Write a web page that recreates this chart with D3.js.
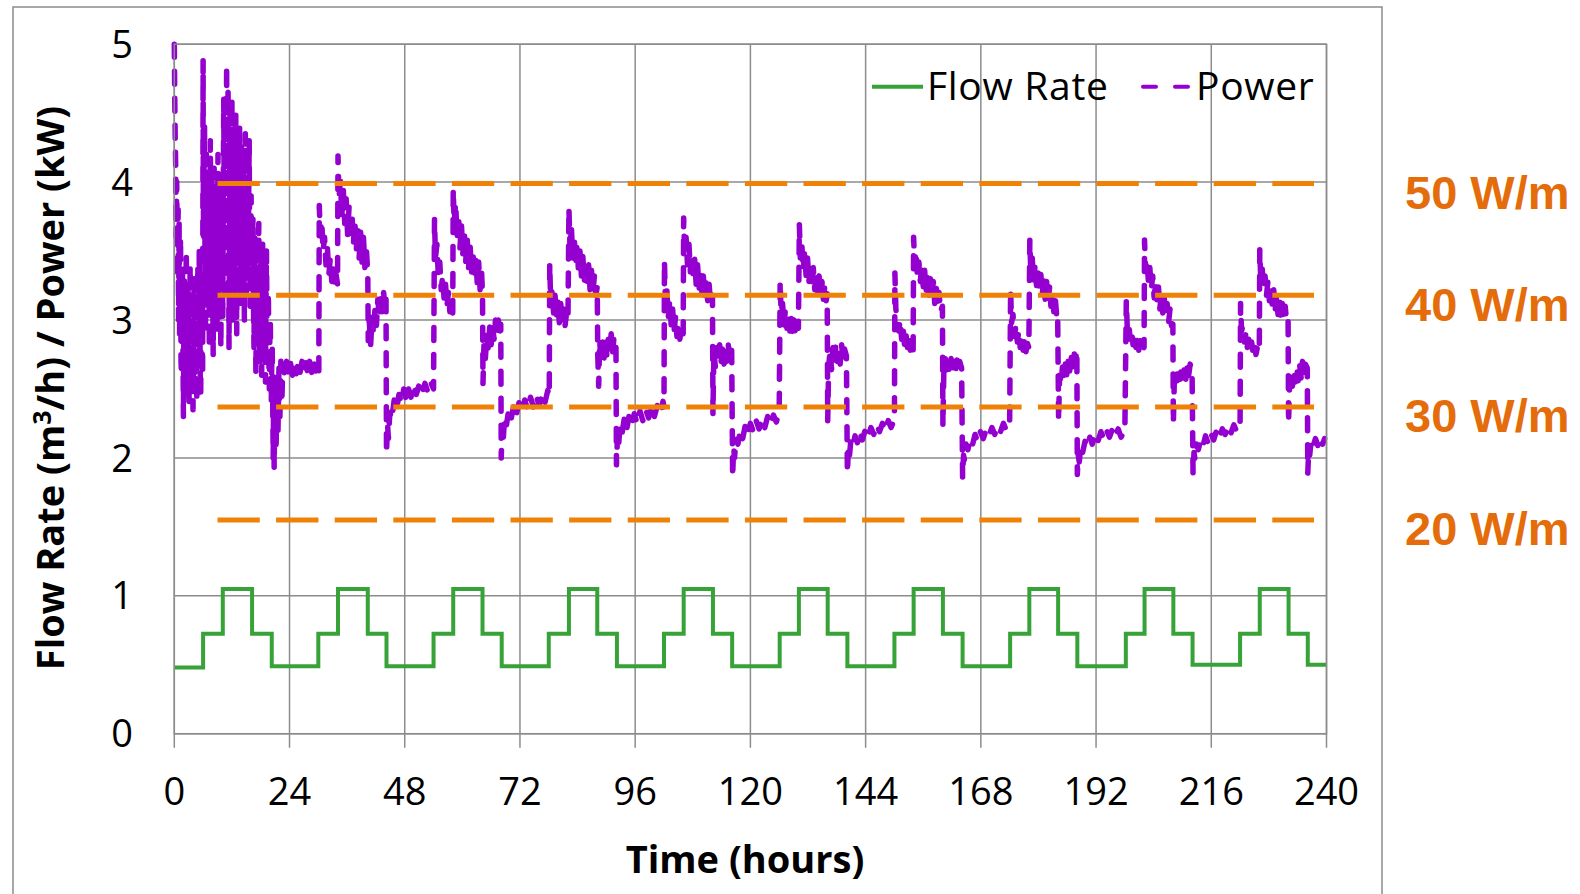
<!DOCTYPE html>
<html>
<head>
<meta charset="utf-8">
<script src="https://cdn.jsdelivr.net/npm/d3@7"></script>
<style>
  body { margin: 0; background: #fff; }
  svg text { font-family: "Open Sans", "Noto Sans", sans-serif; }
</style>
</head>
<body>
<div id="chart"></div>
<script>

// ---- data ----

var xTicks = [0, 24, 48, 72, 96, 120, 144, 168, 192, 216, 240];
var yTicks = [0, 1, 2, 3, 4, 5];

// flow rate (m3/h), step changes [hour, value]
var flowSteps = [
  [0, 0.48], [6, 0.725], [10.1, 1.05], [16.2, 0.725], [20.3, 0.49],
  [30, 0.725], [34.1, 1.05], [40.3, 0.725], [44.2, 0.49],
  [54, 0.725], [58.1, 1.05], [64.2, 0.725], [68.2, 0.49],
  [78, 0.725], [82.2, 1.05], [88.1, 0.725], [92.2, 0.49],
  [102, 0.725], [106.1, 1.05], [112.2, 0.725], [116.2, 0.49],
  [126.1, 0.725], [130.1, 1.05], [136.1, 0.725], [140.2, 0.49],
  [150, 0.725], [154, 1.05], [160.1, 0.725], [164.2, 0.49],
  [174.1, 0.725], [178.1, 1.05], [184.1, 0.725], [188.1, 0.49],
  [198.2, 0.725], [202.1, 1.05], [208.1, 0.725], [212.1, 0.5],
  [222, 0.725], [226.1, 1.05], [232.1, 0.725], [236.1, 0.5],
  [240, 0.5]
];

// heat rejected (kW), [hour, value]
var power = [
  // day 1
  [0, 5.0], [0.1, 4.6], [0.2, 4.3], [0.3, 4.1], [0.4, 3.6], [0.5, 4.0], [0.6, 3.5], [0.7, 3.3], [0.8, 3.8],
  [0.9, 3.0], [1.0, 3.7], [1.1, 2.9], [1.2, 3.4], [1.3, 3.6], [1.4, 2.7], [1.5, 2.6], [1.6, 3.3], [1.7, 3.4],
  [1.8, 2.8], [1.9, 2.3], [2.0, 3.0], [2.1, 3.3], [2.2, 2.5], [2.3, 2.7], [2.4, 3.2], [2.5, 3.5], [2.6, 2.8],
  [2.7, 2.5], [2.8, 3.0], [2.9, 3.2], [3.0, 2.6], [3.1, 2.4], [3.2, 2.9], [3.3, 3.4], [3.4, 2.7], [3.5, 2.6],
  [3.6, 3.3], [3.7, 3.1], [3.8, 2.5], [3.9, 2.35], [4.0, 2.9], [4.1, 3.3], [4.2, 2.8], [4.3, 2.5], [4.4, 3.1],
  [4.5, 3.0], [4.6, 2.6], [4.7, 2.4], [4.8, 3.0], [4.9, 3.4], [5.0, 2.9], [5.1, 2.7], [5.2, 3.5], [5.3, 3.2],
  [5.4, 2.6], [5.5, 2.45], [5.6, 3.1], [5.7, 3.3], [5.8, 2.8], [5.9, 2.6],
  [6.0, 4.88], [6.05, 3.9], [6.1, 3.6], [6.2, 4.1], [6.3, 4.4], [6.4, 3.4], [6.5, 2.9], [6.6, 3.8], [6.7, 4.2],
  [6.8, 3.5], [6.9, 3.1], [7.0, 3.9], [7.1, 4.0], [7.2, 3.3], [7.3, 2.8], [7.4, 3.6], [7.5, 4.3], [7.6, 3.8],
  [7.7, 3.3], [7.8, 4.1], [7.9, 3.9], [8.0, 3.2], [8.1, 2.75], [8.2, 3.5], [8.3, 4.1], [8.4, 3.6], [8.5, 3.0],
  [8.6, 3.9], [8.7, 3.8], [8.8, 3.3], [8.9, 2.9], [9.0, 3.6], [9.1, 4.2], [9.2, 3.7], [9.3, 3.2], [9.4, 4.0],
  [9.5, 3.7], [9.6, 3.1], [9.7, 2.8], [9.8, 3.5], [9.9, 4.0],
  [10.0, 3.5], [10.1, 3.0], [10.2, 3.9], [10.3, 4.6], [10.4, 3.8], [10.5, 3.2], [10.6, 4.1], [10.7, 4.4],
  [10.8, 3.9], [10.9, 4.85], [11.0, 3.5], [11.1, 4.2], [11.2, 4.7], [11.3, 3.6], [11.4, 2.8], [11.5, 3.9],
  [11.6, 4.5], [11.7, 3.9], [11.8, 3.3], [11.9, 4.2], [12.0, 4.6], [12.1, 3.7], [12.2, 3.0], [12.3, 3.8],
  [12.4, 4.3], [12.5, 3.9], [12.6, 3.4], [12.7, 4.1], [12.8, 4.5], [12.9, 3.6], [13.0, 2.9], [13.1, 3.7],
  [13.2, 4.2], [13.3, 3.8], [13.4, 3.3], [13.5, 4.0], [13.6, 4.4], [13.7, 3.6], [13.8, 3.1], [13.9, 3.9],
  [14.0, 4.3], [14.1, 3.8], [14.2, 3.5], [14.3, 4.0], [14.4, 4.1], [14.5, 3.4], [14.6, 3.0], [14.7, 3.8],
  [14.8, 4.35], [14.9, 3.7], [15.0, 3.2], [15.1, 3.7], [15.2, 4.0], [15.3, 3.6], [15.4, 3.4], [15.5, 3.9],
  [15.6, 4.3], [15.7, 3.5], [15.8, 3.1], [15.9, 3.6], [16.0, 3.9], [16.1, 3.5], [16.2, 3.3],
  [16.3, 3.6], [16.4, 3.75], [16.5, 3.1], [16.6, 2.8], [16.7, 3.3], [16.8, 3.6], [16.9, 3.0], [17.0, 2.6],
  [17.1, 3.2], [17.2, 3.5], [17.3, 3.1], [17.4, 2.9], [17.5, 3.4], [17.6, 3.7], [17.7, 3.0], [17.8, 2.7],
  [17.9, 3.2], [18.0, 3.4], [18.1, 2.9], [18.2, 2.6], [18.3, 3.1], [18.4, 3.55], [18.5, 3.1], [18.6, 2.8],
  [18.7, 3.2], [18.8, 3.3], [18.9, 2.8], [19.0, 2.55], [19.1, 3.1], [19.2, 3.5], [19.3, 3.0], [19.4, 2.7],
  [19.5, 3.0], [19.6, 3.2], [19.7, 2.7], [19.8, 2.5], [19.9, 2.9], [20.0, 3.0], [20.1, 2.6], [20.2, 2.4],
  [20.3, 2.7], [20.4, 2.8],
  [20.6, 2.0], [20.7, 2.5], [20.8, 1.93], [21.0, 2.6], [21.2, 2.05], [21.4, 2.55], [21.6, 2.2], [21.8, 2.65],
  [22.0, 2.3], [22.2, 2.7], [22.4, 2.4], [22.6, 2.68], [23, 2.6], [23.4, 2.7], [23.8, 2.61], [24.2, 2.69],
  [24.6, 2.6], [25, 2.68], [25.4, 2.61], [25.8, 2.69], [26.2, 2.62], [26.6, 2.7], [27, 2.62], [27.4, 2.69],
  [27.8, 2.61], [28.2, 2.7], [28.6, 2.62], [29, 2.7], [29.4, 2.63], [29.8, 2.69], [30.1, 2.62],
  // day 2
  [30.2, 3.83], [30.4, 3.62], [30.7, 3.72], [31.0, 3.5], [31.3, 3.6], [31.6, 3.4], [31.9, 3.52], [32.2, 3.33],
  [32.5, 3.45], [32.8, 3.28], [33.1, 3.38], [33.4, 3.24], [33.7, 3.33], [34.0, 3.26],
  [34.1, 4.19], [34.3, 3.88], [34.6, 4.02], [34.9, 3.75], [35.2, 3.95], [35.5, 3.7], [35.8, 3.88], [36.1, 3.62],
  [36.4, 3.82], [36.7, 3.58], [37.0, 3.78], [37.3, 3.55], [37.6, 3.72], [37.9, 3.5], [38.2, 3.68], [38.5, 3.45],
  [38.8, 3.64], [39.1, 3.42], [39.4, 3.6], [39.7, 3.38], [40.0, 3.52], [40.3, 3.34],
  [40.4, 2.85], [40.6, 3.0], [40.9, 2.82], [41.2, 3.02], [41.5, 2.9], [41.8, 3.08], [42.1, 2.96], [42.4, 3.15],
  [42.7, 3.02], [43.0, 3.19], [43.3, 3.06], [43.6, 3.2], [43.9, 3.08], [44.1, 3.15],
  [44.2, 2.03], [44.4, 2.25], [44.6, 2.14], [44.9, 2.33], [45.3, 2.28], [45.8, 2.42], [46.3, 2.35], [46.8, 2.46],
  [47.3, 2.4], [47.8, 2.5], [48.3, 2.42], [48.8, 2.5], [49.3, 2.44], [49.8, 2.53], [50.4, 2.46], [51, 2.53],
  [51.6, 2.47], [52.2, 2.54], [52.8, 2.48], [53.4, 2.55], [54.0, 2.5],
  // day 3
  [54.2, 3.73], [54.4, 3.45], [54.7, 3.55], [55.0, 3.32], [55.3, 3.42], [55.6, 3.22], [55.9, 3.32], [56.2, 3.15],
  [56.5, 3.26], [56.8, 3.1], [57.1, 3.2], [57.4, 3.06], [57.7, 3.14], [58.0, 3.05],
  [58.1, 3.95], [58.3, 3.7], [58.6, 3.85], [58.9, 3.6], [59.2, 3.76], [59.5, 3.52], [59.8, 3.7], [60.1, 3.48],
  [60.4, 3.64], [60.7, 3.42], [61.0, 3.6], [61.3, 3.38], [61.6, 3.55], [61.9, 3.34], [62.2, 3.5], [62.5, 3.3],
  [62.8, 3.45], [63.1, 3.27], [63.4, 3.42], [63.7, 3.22], [64.0, 3.35], [64.2, 3.19],
  [64.3, 2.54], [64.5, 2.82], [64.8, 2.72], [65.1, 2.9], [65.4, 2.78], [65.7, 2.95], [66.0, 2.82], [66.3, 2.97],
  [66.6, 2.86], [66.9, 3.0], [67.2, 2.88], [67.5, 3.0], [67.8, 2.9], [68.0, 2.97],
  [68.1, 2.0], [68.3, 2.22], [68.5, 2.12], [68.8, 2.3], [69.2, 2.24], [69.7, 2.36], [70.2, 2.29], [70.7, 2.38],
  [71.2, 2.31], [71.8, 2.4], [72.4, 2.33], [73, 2.42], [73.6, 2.35], [74.2, 2.44], [74.8, 2.37], [75.4, 2.45],
  [76, 2.38], [76.6, 2.46], [77.2, 2.4], [77.8, 2.49], [78.1, 2.45],
  // day 4
  [78.2, 3.41], [78.4, 3.12], [78.7, 3.22], [79.0, 3.05], [79.3, 3.18], [79.6, 3.02], [79.9, 3.14], [80.2, 2.98],
  [80.5, 3.12], [80.8, 2.97], [81.1, 3.08], [81.4, 2.96], [81.7, 3.05], [82.0, 3.0],
  [82.2, 3.81], [82.4, 3.55], [82.7, 3.68], [83.0, 3.45], [83.3, 3.6], [83.6, 3.4], [83.9, 3.55], [84.2, 3.35],
  [84.5, 3.5], [84.8, 3.32], [85.1, 3.46], [85.4, 3.28], [85.7, 3.43], [86.0, 3.25], [86.3, 3.4], [86.6, 3.22],
  [86.9, 3.36], [87.2, 3.2], [87.5, 3.32], [87.8, 3.18], [88.1, 3.24],
  [88.2, 2.75], [88.4, 2.52], [88.6, 2.85], [88.9, 2.7], [89.2, 2.84], [89.5, 2.72], [89.8, 2.88], [90.1, 2.74],
  [90.4, 2.86], [90.7, 2.76], [91.0, 2.9], [91.3, 2.77], [91.6, 2.88], [92.0, 2.8],
  [92.1, 1.95], [92.3, 2.14], [92.5, 2.06], [92.8, 2.22], [93.2, 2.16], [93.7, 2.28], [94.2, 2.2], [94.7, 2.3],
  [95.2, 2.23], [95.8, 2.32], [96.4, 2.25], [97, 2.34], [97.6, 2.27], [98.2, 2.35], [98.8, 2.29], [99.4, 2.37],
  [100, 2.3], [100.6, 2.38], [101.2, 2.32], [101.8, 2.41], [102.0, 2.37],
  // day 5
  [102.1, 3.43], [102.3, 3.12], [102.6, 3.22], [102.9, 3.02], [103.2, 3.14], [103.5, 2.96], [103.8, 3.08],
  [104.1, 2.92], [104.4, 3.02], [104.7, 2.88], [105.0, 2.98], [105.3, 2.86], [105.6, 2.95], [106.0, 2.9],
  [106.1, 3.74], [106.3, 3.48], [106.6, 3.6], [106.9, 3.4], [107.2, 3.55], [107.5, 3.35], [107.8, 3.48],
  [108.1, 3.3], [108.4, 3.44], [108.7, 3.26], [109.0, 3.4], [109.3, 3.22], [109.6, 3.36], [109.9, 3.2],
  [110.2, 3.32], [110.5, 3.16], [110.8, 3.3], [111.1, 3.14], [111.4, 3.26], [111.7, 3.12], [112.1, 3.18],
  [112.2, 2.32], [112.4, 2.78], [112.7, 2.66], [113.0, 2.8], [113.3, 2.69], [113.6, 2.82], [113.9, 2.7],
  [114.2, 2.81], [114.5, 2.68], [114.8, 2.8], [115.1, 2.7], [115.4, 2.82], [115.7, 2.7], [116.1, 2.78],
  [116.3, 1.86], [116.5, 2.08], [116.7, 2.0], [117, 2.14], [117.4, 2.1], [117.9, 2.2], [118.4, 2.14], [118.9, 2.23],
  [119.4, 2.17], [120, 2.25], [120.6, 2.19], [121.2, 2.27], [121.8, 2.21], [122.4, 2.28], [123, 2.22], [123.6, 2.3],
  [124.2, 2.24], [124.8, 2.31], [125.4, 2.26], [126.0, 2.33],
  // day 6
  [126.2, 3.28], [126.4, 3.05], [126.7, 3.12], [127.0, 2.96], [127.3, 3.08], [127.6, 2.94], [127.9, 3.04],
  [128.2, 2.92], [128.5, 3.02], [128.8, 2.9], [129.1, 3.0], [129.4, 2.9], [129.7, 2.98], [130.0, 2.94],
  [130.2, 3.69], [130.4, 3.45], [130.7, 3.56], [131.0, 3.36], [131.3, 3.5], [131.6, 3.32], [131.9, 3.45],
  [132.2, 3.28], [132.5, 3.42], [132.8, 3.25], [133.1, 3.38], [133.4, 3.22], [133.7, 3.35], [134.0, 3.2],
  [134.3, 3.32], [134.6, 3.18], [134.9, 3.28], [135.2, 3.15], [135.5, 3.25], [135.8, 3.14], [136.0, 3.19],
  [136.1, 2.27], [136.3, 2.66], [136.6, 2.78], [136.9, 2.64], [137.2, 2.8], [137.5, 2.68], [137.8, 2.82],
  [138.1, 2.7], [138.4, 2.8], [138.7, 2.68], [139.0, 2.82], [139.3, 2.7], [139.6, 2.79], [140.0, 2.74],
  [140.2, 1.89], [140.4, 2.06], [140.6, 2.0], [140.9, 2.12], [141.3, 2.08], [141.8, 2.16], [142.3, 2.11],
  [142.8, 2.19], [143.3, 2.13], [143.9, 2.2], [144.5, 2.15], [145.1, 2.22], [145.7, 2.17], [146.3, 2.24],
  [146.9, 2.19], [147.5, 2.25], [148.1, 2.2], [148.7, 2.27], [149.3, 2.22], [150.0, 2.28],
  // day 7
  [150.1, 3.34], [150.3, 3.08], [150.6, 3.0], [150.9, 2.92], [151.2, 3.0], [151.5, 2.86], [151.8, 2.95],
  [152.1, 2.82], [152.4, 2.9], [152.7, 2.8], [153.0, 2.88], [153.3, 2.78], [153.6, 2.84], [153.9, 2.78],
  [154.0, 3.6], [154.2, 3.4], [154.5, 3.5], [154.8, 3.3], [155.1, 3.42], [155.4, 3.28], [155.7, 3.4],
  [156.0, 3.24], [156.3, 3.36], [156.6, 3.2], [156.9, 3.34], [157.2, 3.18], [157.5, 3.3], [157.8, 3.16],
  [158.1, 3.28], [158.4, 3.12], [158.7, 3.25], [159.0, 3.1], [159.3, 3.2], [159.6, 3.06], [160.0, 3.1],
  [160.1, 2.23], [160.3, 2.64], [160.6, 2.72], [160.9, 2.6], [161.2, 2.7], [161.5, 2.6], [161.8, 2.72],
  [162.1, 2.62], [162.4, 2.7], [162.7, 2.6], [163.0, 2.71], [163.3, 2.62], [163.6, 2.7], [164.0, 2.65],
  [164.2, 1.86], [164.4, 2.02], [164.6, 1.98], [164.9, 2.1], [165.3, 2.06], [165.8, 2.14], [166.3, 2.1],
  [166.8, 2.17], [167.3, 2.12], [167.9, 2.19], [168.5, 2.14], [169.1, 2.2], [169.7, 2.16], [170.3, 2.22],
  [170.9, 2.17], [171.5, 2.23], [172.1, 2.19], [172.7, 2.25], [173.3, 2.2], [174.0, 2.26],
  // day 8
  [174.2, 3.22], [174.4, 2.98], [174.7, 3.04], [175.0, 2.88], [175.3, 2.96], [175.6, 2.84], [175.9, 2.92],
  [176.2, 2.8], [176.5, 2.88], [176.8, 2.78], [177.1, 2.86], [177.4, 2.77], [177.7, 2.83], [178.0, 2.8],
  [178.2, 3.58], [178.4, 3.36], [178.7, 3.45], [179.0, 3.28], [179.3, 3.4], [179.6, 3.25], [179.9, 3.36],
  [180.2, 3.22], [180.5, 3.33], [180.8, 3.18], [181.1, 3.3], [181.4, 3.15], [181.7, 3.28], [182.0, 3.12],
  [182.3, 3.24], [182.6, 3.1], [182.9, 3.2], [183.2, 3.06], [183.5, 3.16], [183.8, 3.03], [184.0, 3.05],
  [184.2, 2.27], [184.4, 2.6], [184.7, 2.55], [185.0, 2.66], [185.3, 2.58], [185.6, 2.68], [185.9, 2.6],
  [186.2, 2.7], [186.5, 2.63], [186.8, 2.74], [187.1, 2.66], [187.4, 2.77], [187.7, 2.7], [188.0, 2.78],
  [188.1, 1.88], [188.3, 2.02], [188.5, 1.97], [188.8, 2.08], [189.2, 2.04], [189.7, 2.12], [190.2, 2.08],
  [190.7, 2.15], [191.2, 2.1], [191.8, 2.17], [192.4, 2.12], [193, 2.19], [193.6, 2.14], [194.2, 2.2],
  [194.8, 2.15], [195.4, 2.21], [196, 2.16], [196.6, 2.21], [197.2, 2.15], [198.0, 2.2],
  // day 9
  [198.3, 3.14], [198.5, 2.94], [198.8, 2.98], [199.1, 2.86], [199.4, 2.93], [199.7, 2.82], [200.0, 2.9],
  [200.3, 2.8], [200.6, 2.87], [200.9, 2.78], [201.2, 2.85], [201.5, 2.77], [201.8, 2.82], [202.0, 2.8],
  [202.1, 3.58], [202.3, 3.36], [202.6, 3.44], [202.9, 3.28], [203.2, 3.38], [203.5, 3.22], [203.8, 3.32],
  [204.1, 3.16], [204.4, 3.28], [204.7, 3.12], [205.0, 3.24], [205.3, 3.08], [205.6, 3.2], [205.9, 3.05],
  [206.2, 3.16], [206.5, 3.02], [206.8, 3.12], [207.1, 2.98], [207.4, 3.08], [207.7, 2.96], [208.0, 2.97],
  [208.1, 2.25], [208.3, 2.56], [208.6, 2.64], [208.9, 2.56], [209.2, 2.66], [209.5, 2.57], [209.8, 2.67],
  [210.1, 2.58], [210.4, 2.66], [210.7, 2.57], [211.0, 2.68], [211.3, 2.6], [211.6, 2.68], [212.0, 2.62],
  [212.2, 1.89], [212.4, 2.04], [212.6, 1.99], [212.9, 2.1], [213.3, 2.06], [213.8, 2.13], [214.3, 2.09],
  [214.8, 2.16], [215.3, 2.11], [215.9, 2.18], [216.5, 2.13], [217.1, 2.2], [217.7, 2.15], [218.3, 2.21],
  [218.9, 2.17], [219.5, 2.23], [220.1, 2.18], [220.7, 2.24], [221.3, 2.19], [222.0, 2.25],
  // day 10
  [222.1, 3.12], [222.3, 2.92], [222.6, 2.96], [222.9, 2.84], [223.2, 2.9], [223.5, 2.8], [223.8, 2.86],
  [224.1, 2.77], [224.4, 2.84], [224.7, 2.76], [225.0, 2.82], [225.3, 2.75], [225.6, 2.8], [226.0, 2.77],
  [226.1, 3.51], [226.3, 3.3], [226.6, 3.38], [226.9, 3.22], [227.2, 3.32], [227.5, 3.18], [227.8, 3.28],
  [228.1, 3.14], [228.4, 3.25], [228.7, 3.1], [229.0, 3.22], [229.3, 3.07], [229.6, 3.18], [229.9, 3.04],
  [230.2, 3.16], [230.5, 3.02], [230.8, 3.12], [231.1, 3.0], [231.4, 3.1], [231.7, 2.98], [232.0, 3.0],
  [232.1, 2.25], [232.3, 2.52], [232.6, 2.62], [232.9, 2.52], [233.2, 2.64], [233.5, 2.55], [233.8, 2.66],
  [234.1, 2.56], [234.4, 2.68], [234.7, 2.58], [235.0, 2.7], [235.3, 2.6], [235.6, 2.68], [236.0, 2.65],
  [236.1, 1.89], [236.3, 2.06], [236.5, 2.02], [236.8, 2.12], [237.2, 2.08], [237.7, 2.14], [238.2, 2.09],
  [238.7, 2.15], [239.2, 2.1], [239.6, 2.14]
];

// reference heat rates per metre of borehole
var refLabels = ["50 W/m", "40 W/m", "30 W/m", "20 W/m"];
var refKW = [3.99, 3.18, 2.37, 1.55];
var refStart = 9, refEnd = 237.4;

var legendItems = ["Flow Rate", "Power"];

// ---- drawing ----

var W = 1580, H = 894;
var margin = { top: 44.2, right: 253.5, bottom: 160.3, left: 174.3 };

var colors = { flow: "#37a237", power: "#9400d0", ref: "#ee8106", refText: "#e46c0a", grid: "#8c8c8c" };

var svg = d3.select("#chart").append("svg")
    .attr("width", W)
    .attr("height", H);

// outer frame
svg.append("rect")
    .attr("x", 13).attr("y", 7)
    .attr("width", 1369).attr("height", 900)
    .attr("fill", "#fff")
    .attr("stroke", colors.grid)
    .attr("stroke-width", 1.5);

var x = d3.scaleLinear()
    .domain([0, 240])
    .range([margin.left, W - margin.right]);

var y = d3.scaleLinear()
    .domain([0, 5])
    .range([H - margin.bottom, margin.top]);

// gridlines
svg.append("g")
    .selectAll("line")
    .data(yTicks)
    .enter().append("line")
    .attr("x1", x(0)).attr("x2", x(240))
    .attr("y1", function(d){ return y(d); })
    .attr("y2", function(d){ return y(d); })
    .attr("stroke", colors.grid)
    .attr("stroke-width", 1.5);

svg.append("g")
    .selectAll("line")
    .data(xTicks)
    .enter().append("line")
    .attr("x1", function(d){ return x(d); })
    .attr("x2", function(d){ return x(d); })
    .attr("y1", y(5)).attr("y2", y(0) + 14)
    .attr("stroke", colors.grid)
    .attr("stroke-width", 1.5);

// tick labels
svg.append("g")
    .selectAll("text")
    .data(xTicks)
    .enter().append("text")
    .attr("x", function(d){ return x(d); })
    .attr("y", 805)
    .attr("text-anchor", "middle")
    .attr("font-size", 38)
    .text(function(d){ return d; });

svg.append("g")
    .selectAll("text")
    .data(yTicks)
    .enter().append("text")
    .attr("x", 133)
    .attr("y", function(d){ return y(d); })
    .attr("dy", "0.36em")
    .attr("text-anchor", "end")
    .attr("font-size", 38)
    .text(function(d){ return d; });

// axis titles
svg.append("text")
    .attr("x", 745)
    .attr("y", 873)
    .attr("text-anchor", "middle")
    .attr("font-size", 38)
    .attr("font-weight", "bold")
    .text("Time (hours)");

var yTitle = svg.append("text")
    .attr("transform", "translate(64,388) rotate(-90)")
    .attr("text-anchor", "middle")
    .attr("font-size", 38)
    .attr("font-weight", "bold");
yTitle.append("tspan").text("Flow Rate (m");
yTitle.append("tspan").attr("font-size", 25).attr("dy", -13).text("3");
yTitle.append("tspan").attr("dy", 13).text("/h) / Power (kW)");

// flow rate line
var flowLine = d3.line()
    .curve(d3.curveStepAfter)
    .x(function(d){ return x(d[0]); })
    .y(function(d){ return y(d[1]); });

svg.append("path")
    .datum(flowSteps)
    .attr("d", flowLine)
    .attr("fill", "none")
    .attr("stroke", colors.flow)
    .attr("stroke-width", 4);

// power line
var powerLine = d3.line()
    .x(function(d){ return x(d[0]); })
    .y(function(d){ return y(d[1]); });

svg.append("path")
    .datum(power)
    .attr("d", powerLine)
    .attr("fill", "none")
    .attr("stroke", colors.power)
    .attr("stroke-width", 5.5)
    .attr("stroke-linecap", "round")
    .attr("stroke-linejoin", "round")
    .attr("stroke-dasharray", "13,14");

// reference lines (W/m), drawn over the data
var refG = svg.append("g");
refG.selectAll("line")
    .data(refKW)
    .enter().append("line")
    .attr("x1", x(refStart)).attr("x2", x(refEnd))
    .attr("y1", function(d){ return y(d); })
    .attr("y2", function(d){ return y(d); })
    .attr("stroke", colors.ref)
    .attr("stroke-width", 5)
    .attr("stroke-dasharray", "42.3,16.3");

refG.selectAll("text")
    .data(refKW)
    .enter().append("text")
    .attr("x", 1405)
    .attr("y", function(d){ return y(d) + 8.5; })
    .attr("dy", "0.36em")
    .attr("fill", colors.refText)
    .style("font-family", "'Liberation Sans', Arial, sans-serif")
    .attr("font-weight", "bold")
    .attr("font-size", 47)
    .text(function(d, i){ return refLabels[i]; });

// plot border on top
svg.append("rect")
    .attr("x", x(0)).attr("y", y(5))
    .attr("width", x(240) - x(0)).attr("height", y(0) - y(5))
    .attr("fill", "none")
    .attr("stroke", colors.grid)
    .attr("stroke-width", 1.5);

// legend
var legend = svg.append("g");
legend.append("line")
    .attr("x1", 872).attr("x2", 923)
    .attr("y1", 86.7).attr("y2", 86.7)
    .attr("stroke", colors.flow)
    .attr("stroke-width", 4);
legend.append("text")
    .attr("x", 927).attr("y", 99.5)
    .attr("font-size", 39)
    .attr("letter-spacing", 0.7)
    .text(legendItems[0]);
legend.append("line")
    .attr("x1", 1143).attr("x2", 1190)
    .attr("y1", 86.7).attr("y2", 86.7)
    .attr("stroke", colors.power)
    .attr("stroke-width", 4)
    .attr("stroke-linecap", "round")
    .attr("stroke-dasharray", "13,19");
legend.append("text")
    .attr("x", 1196).attr("y", 99.5)
    .attr("font-size", 39)
    .attr("letter-spacing", 0.7)
    .text(legendItems[1]);

</script>
</body>
</html>
